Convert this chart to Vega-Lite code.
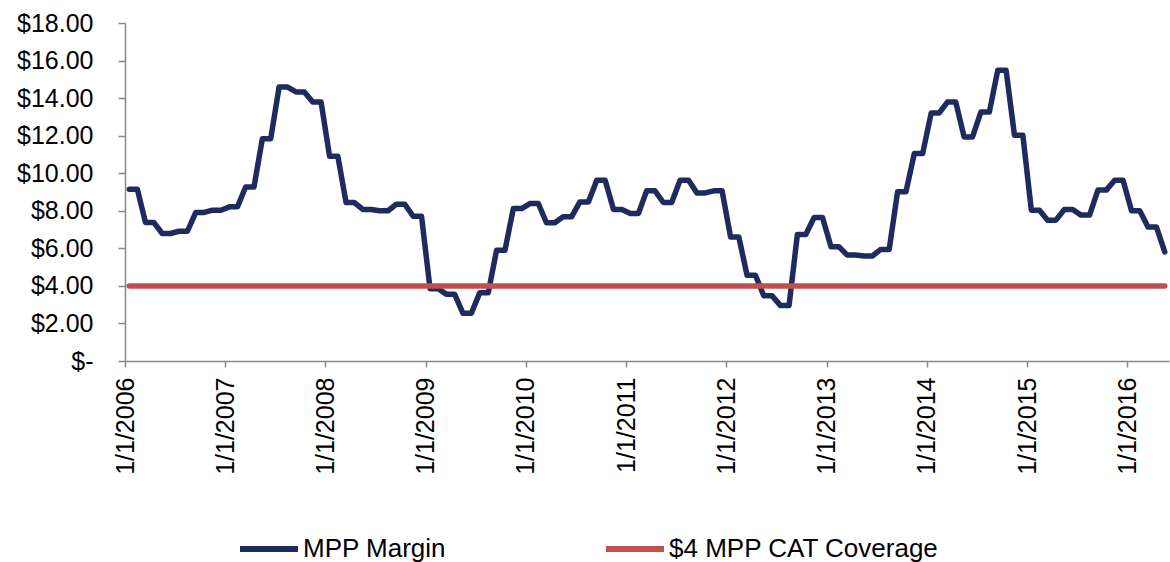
{
  "$schema": "https://vega.github.io/schema/vega-lite/v6.json",
  "width": 1044,
  "height": 338,
  "autosize": {"type": "none"},
  "padding": {"left": 125, "top": 23, "right": 1, "bottom": 201},
  "background": "white",
  "config": {
    "view": {"stroke": null},
    "font": "Liberation Sans",
    "axis": {"labelFont": "Liberation Sans", "labelColor": "#000000", "domainColor": "#898989", "tickColor": "#898989", "domainWidth": 1.5, "tickWidth": 1.5, "grid": false, "title": null}
  },
  "datasets": {
    "mpp": [
      {"date": "2006-01-01", "series": "MPP Margin", "value": 9.15},
      {"date": "2006-02-01", "series": "MPP Margin", "value": 9.15},
      {"date": "2006-03-01", "series": "MPP Margin", "value": 7.38},
      {"date": "2006-04-01", "series": "MPP Margin", "value": 7.38},
      {"date": "2006-05-01", "series": "MPP Margin", "value": 6.79},
      {"date": "2006-06-01", "series": "MPP Margin", "value": 6.79},
      {"date": "2006-07-01", "series": "MPP Margin", "value": 6.91},
      {"date": "2006-08-01", "series": "MPP Margin", "value": 6.91},
      {"date": "2006-09-01", "series": "MPP Margin", "value": 7.91},
      {"date": "2006-10-01", "series": "MPP Margin", "value": 7.91},
      {"date": "2006-11-01", "series": "MPP Margin", "value": 8.03},
      {"date": "2006-12-01", "series": "MPP Margin", "value": 8.03},
      {"date": "2007-01-01", "series": "MPP Margin", "value": 8.21},
      {"date": "2007-02-01", "series": "MPP Margin", "value": 8.21},
      {"date": "2007-03-01", "series": "MPP Margin", "value": 9.27},
      {"date": "2007-04-01", "series": "MPP Margin", "value": 9.27},
      {"date": "2007-05-01", "series": "MPP Margin", "value": 11.84},
      {"date": "2007-06-01", "series": "MPP Margin", "value": 11.84},
      {"date": "2007-07-01", "series": "MPP Margin", "value": 14.59},
      {"date": "2007-08-01", "series": "MPP Margin", "value": 14.59},
      {"date": "2007-09-01", "series": "MPP Margin", "value": 14.33},
      {"date": "2007-10-01", "series": "MPP Margin", "value": 14.33},
      {"date": "2007-11-01", "series": "MPP Margin", "value": 13.79},
      {"date": "2007-12-01", "series": "MPP Margin", "value": 13.79},
      {"date": "2008-01-01", "series": "MPP Margin", "value": 10.9},
      {"date": "2008-02-01", "series": "MPP Margin", "value": 10.9},
      {"date": "2008-03-01", "series": "MPP Margin", "value": 8.44},
      {"date": "2008-04-01", "series": "MPP Margin", "value": 8.44},
      {"date": "2008-05-01", "series": "MPP Margin", "value": 8.07},
      {"date": "2008-06-01", "series": "MPP Margin", "value": 8.07},
      {"date": "2008-07-01", "series": "MPP Margin", "value": 8.0},
      {"date": "2008-08-01", "series": "MPP Margin", "value": 8.0},
      {"date": "2008-09-01", "series": "MPP Margin", "value": 8.35},
      {"date": "2008-10-01", "series": "MPP Margin", "value": 8.35},
      {"date": "2008-11-01", "series": "MPP Margin", "value": 7.71},
      {"date": "2008-12-01", "series": "MPP Margin", "value": 7.71},
      {"date": "2009-01-01", "series": "MPP Margin", "value": 3.85},
      {"date": "2009-02-01", "series": "MPP Margin", "value": 3.85},
      {"date": "2009-03-01", "series": "MPP Margin", "value": 3.56},
      {"date": "2009-04-01", "series": "MPP Margin", "value": 3.56},
      {"date": "2009-05-01", "series": "MPP Margin", "value": 2.54},
      {"date": "2009-06-01", "series": "MPP Margin", "value": 2.54},
      {"date": "2009-07-01", "series": "MPP Margin", "value": 3.63},
      {"date": "2009-08-01", "series": "MPP Margin", "value": 3.63},
      {"date": "2009-09-01", "series": "MPP Margin", "value": 5.9},
      {"date": "2009-10-01", "series": "MPP Margin", "value": 5.9},
      {"date": "2009-11-01", "series": "MPP Margin", "value": 8.12},
      {"date": "2009-12-01", "series": "MPP Margin", "value": 8.12},
      {"date": "2010-01-01", "series": "MPP Margin", "value": 8.39},
      {"date": "2010-02-01", "series": "MPP Margin", "value": 8.39},
      {"date": "2010-03-01", "series": "MPP Margin", "value": 7.36},
      {"date": "2010-04-01", "series": "MPP Margin", "value": 7.36},
      {"date": "2010-05-01", "series": "MPP Margin", "value": 7.68},
      {"date": "2010-06-01", "series": "MPP Margin", "value": 7.68},
      {"date": "2010-07-01", "series": "MPP Margin", "value": 8.47},
      {"date": "2010-08-01", "series": "MPP Margin", "value": 8.47},
      {"date": "2010-09-01", "series": "MPP Margin", "value": 9.63},
      {"date": "2010-10-01", "series": "MPP Margin", "value": 9.63},
      {"date": "2010-11-01", "series": "MPP Margin", "value": 8.07},
      {"date": "2010-12-01", "series": "MPP Margin", "value": 8.07},
      {"date": "2011-01-01", "series": "MPP Margin", "value": 7.86},
      {"date": "2011-02-01", "series": "MPP Margin", "value": 7.86},
      {"date": "2011-03-01", "series": "MPP Margin", "value": 9.06},
      {"date": "2011-04-01", "series": "MPP Margin", "value": 9.06},
      {"date": "2011-05-01", "series": "MPP Margin", "value": 8.44},
      {"date": "2011-06-01", "series": "MPP Margin", "value": 8.44},
      {"date": "2011-07-01", "series": "MPP Margin", "value": 9.63},
      {"date": "2011-08-01", "series": "MPP Margin", "value": 9.63},
      {"date": "2011-09-01", "series": "MPP Margin", "value": 8.95},
      {"date": "2011-10-01", "series": "MPP Margin", "value": 8.95},
      {"date": "2011-11-01", "series": "MPP Margin", "value": 9.06},
      {"date": "2011-12-01", "series": "MPP Margin", "value": 9.06},
      {"date": "2012-01-01", "series": "MPP Margin", "value": 6.61},
      {"date": "2012-02-01", "series": "MPP Margin", "value": 6.61},
      {"date": "2012-03-01", "series": "MPP Margin", "value": 4.57},
      {"date": "2012-04-01", "series": "MPP Margin", "value": 4.57},
      {"date": "2012-05-01", "series": "MPP Margin", "value": 3.47},
      {"date": "2012-06-01", "series": "MPP Margin", "value": 3.47},
      {"date": "2012-07-01", "series": "MPP Margin", "value": 2.95},
      {"date": "2012-08-01", "series": "MPP Margin", "value": 2.95},
      {"date": "2012-09-01", "series": "MPP Margin", "value": 6.74},
      {"date": "2012-10-01", "series": "MPP Margin", "value": 6.74},
      {"date": "2012-11-01", "series": "MPP Margin", "value": 7.64},
      {"date": "2012-12-01", "series": "MPP Margin", "value": 7.64},
      {"date": "2013-01-01", "series": "MPP Margin", "value": 6.08},
      {"date": "2013-02-01", "series": "MPP Margin", "value": 6.08},
      {"date": "2013-03-01", "series": "MPP Margin", "value": 5.64},
      {"date": "2013-04-01", "series": "MPP Margin", "value": 5.64},
      {"date": "2013-05-01", "series": "MPP Margin", "value": 5.59},
      {"date": "2013-06-01", "series": "MPP Margin", "value": 5.59},
      {"date": "2013-07-01", "series": "MPP Margin", "value": 5.94},
      {"date": "2013-08-01", "series": "MPP Margin", "value": 5.94},
      {"date": "2013-09-01", "series": "MPP Margin", "value": 9.01},
      {"date": "2013-10-01", "series": "MPP Margin", "value": 9.01},
      {"date": "2013-11-01", "series": "MPP Margin", "value": 11.05},
      {"date": "2013-12-01", "series": "MPP Margin", "value": 11.05},
      {"date": "2014-01-01", "series": "MPP Margin", "value": 13.21},
      {"date": "2014-02-01", "series": "MPP Margin", "value": 13.21},
      {"date": "2014-03-01", "series": "MPP Margin", "value": 13.79},
      {"date": "2014-04-01", "series": "MPP Margin", "value": 13.79},
      {"date": "2014-05-01", "series": "MPP Margin", "value": 11.93},
      {"date": "2014-06-01", "series": "MPP Margin", "value": 11.93},
      {"date": "2014-07-01", "series": "MPP Margin", "value": 13.26},
      {"date": "2014-08-01", "series": "MPP Margin", "value": 13.26},
      {"date": "2014-09-01", "series": "MPP Margin", "value": 15.48},
      {"date": "2014-10-01", "series": "MPP Margin", "value": 15.48},
      {"date": "2014-11-01", "series": "MPP Margin", "value": 12.02},
      {"date": "2014-12-01", "series": "MPP Margin", "value": 12.02},
      {"date": "2015-01-01", "series": "MPP Margin", "value": 8.03},
      {"date": "2015-02-01", "series": "MPP Margin", "value": 8.03},
      {"date": "2015-03-01", "series": "MPP Margin", "value": 7.5},
      {"date": "2015-04-01", "series": "MPP Margin", "value": 7.5},
      {"date": "2015-05-01", "series": "MPP Margin", "value": 8.07},
      {"date": "2015-06-01", "series": "MPP Margin", "value": 8.07},
      {"date": "2015-07-01", "series": "MPP Margin", "value": 7.77},
      {"date": "2015-08-01", "series": "MPP Margin", "value": 7.77},
      {"date": "2015-09-01", "series": "MPP Margin", "value": 9.1},
      {"date": "2015-10-01", "series": "MPP Margin", "value": 9.1},
      {"date": "2015-11-01", "series": "MPP Margin", "value": 9.63},
      {"date": "2015-12-01", "series": "MPP Margin", "value": 9.63},
      {"date": "2016-01-01", "series": "MPP Margin", "value": 8.0},
      {"date": "2016-02-01", "series": "MPP Margin", "value": 8.0},
      {"date": "2016-03-01", "series": "MPP Margin", "value": 7.14},
      {"date": "2016-04-01", "series": "MPP Margin", "value": 7.14},
      {"date": "2016-05-01", "series": "MPP Margin", "value": 5.81},
      {"date": "2006-01-01", "series": "$4 MPP CAT Coverage", "value": 4},
      {"date": "2016-05-01", "series": "$4 MPP CAT Coverage", "value": 4}
    ]
  },
  "data": {"name": "mpp"},
  "encoding": {
    "x": {
      "timeUnit": "utcyearmonth",
      "field": "date",
      "type": "temporal",
      "bandPosition": 0.5,
      "scale": {"domain": [{"year": 2006, "month": 1, "date": 1, "utc": true}, {"year": 2016, "month": 6, "date": 1, "utc": true}], "nice": false},
      "axis": {
        "values": [
          {"year": 2006, "month": 1, "date": 1, "utc": true},
          {"year": 2007, "month": 1, "date": 1, "utc": true},
          {"year": 2008, "month": 1, "date": 1, "utc": true},
          {"year": 2009, "month": 1, "date": 1, "utc": true},
          {"year": 2010, "month": 1, "date": 1, "utc": true},
          {"year": 2011, "month": 1, "date": 1, "utc": true},
          {"year": 2012, "month": 1, "date": 1, "utc": true},
          {"year": 2013, "month": 1, "date": 1, "utc": true},
          {"year": 2014, "month": 1, "date": 1, "utc": true},
          {"year": 2015, "month": 1, "date": 1, "utc": true},
          {"year": 2016, "month": 1, "date": 1, "utc": true}
        ],
        "labelExpr": "utcFormat(datum.value, '%-m/%-d/%Y')",
        "labelAngle": 270,
        "labelFontSize": 25,
        "tickSize": 6,
        "labelPadding": 10,
        "labelOverlap": false,
        "labelBound": false,
        "labelFlush": false
      }
    },
    "y": {
      "field": "value",
      "type": "quantitative",
      "scale": {"domain": [0, 18], "nice": false},
      "axis": {
        "values": [0, 2, 4, 6, 8, 10, 12, 14, 16, 18],
        "labelExpr": "datum.value == 0 ? '$-  ' : '$' + format(datum.value, '.2f')",
        "labelFontSize": 25,
        "tickSize": 7,
        "labelPadding": 25,
        "labelOverlap": false,
        "labelFlush": false,
        "labelBound": false
      }
    },
    "color": {
      "field": "series",
      "type": "nominal",
      "scale": {"domain": ["MPP Margin", "$4 MPP CAT Coverage"], "range": ["#1F2A5E", "#C0504D"]},
      "legend": {
        "title": null,
        "orient": "none",
        "direction": "horizontal",
        "legendX": 112,
        "legendY": 494,
        "padding": 0,
        "symbolType": "stroke",
        "symbolSize": 3364,
        "symbolStrokeWidth": 6,
        "labelFont": "Liberation Sans",
        "labelFontSize": 26,
        "labelColor": "#000000",
        "labelOffset": 2,
        "labelLimit": 400,
        "columnPadding": 147
      }
    }
  },
  "layer": [
    {
      "transform": [{"filter": "datum.series == 'MPP Margin'"}],
      "mark": {"type": "line", "strokeWidth": 5.5, "strokeJoin": "round", "strokeCap": "round"}
    },
    {
      "transform": [{"filter": "datum.series != 'MPP Margin'"}],
      "mark": {"type": "line", "strokeWidth": 5.5, "strokeJoin": "round", "strokeCap": "round"}
    }
  ]
}
